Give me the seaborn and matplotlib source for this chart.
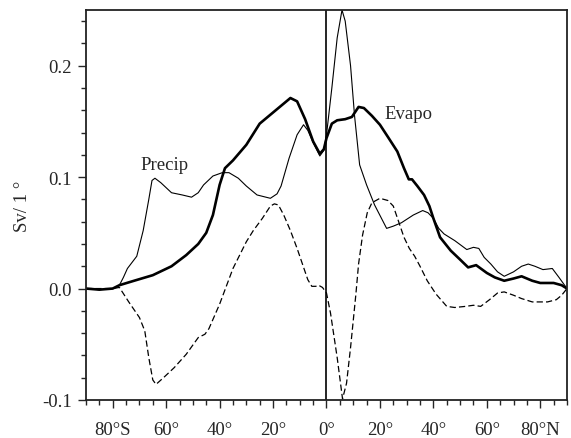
import matplotlib
matplotlib.use("Agg")
import matplotlib.pyplot as plt
from matplotlib.ticker import FixedLocator, FixedFormatter, MultipleLocator, FormatStrFormatter
import seaborn as sns
import pandas as pd

# Zonal distribution of evaporation, precipitation and E - P (Sv per degree latitude)
evapo_lat = [-90, -85, -80, -77.5, -72, -65, -58, -52.5, -48, -45, -42.5, -40, -38, -35,
             -30, -25, -20, -16, -13.5, -11, -8, -5, -2.5, -1, 0, 2, 4, 7, 9.5, 12, 14,
             17, 20, 23, 26.5, 29, 30.8, 32, 34, 36.5, 38.5, 40, 42.5, 46.5, 50, 53, 56,
             60, 63, 66.5, 70, 73, 77, 80, 85, 88, 90]
evapo_val = [0.0, -0.001, 0.0, 0.003, 0.007, 0.012, 0.020, 0.030, 0.040, 0.050, 0.066,
             0.093, 0.108, 0.115, 0.129, 0.148, 0.158, 0.166, 0.171, 0.168, 0.152, 0.132,
             0.121, 0.125, 0.135, 0.148, 0.151, 0.152, 0.154, 0.163, 0.162, 0.155, 0.147,
             0.136, 0.123, 0.108, 0.098, 0.098, 0.092, 0.084, 0.074, 0.063, 0.046, 0.034,
             0.026, 0.019, 0.021, 0.014, 0.010, 0.007, 0.009, 0.011, 0.007, 0.005, 0.005,
             0.003, 0.0]

precip_lat = [-90, -85, -80, -77.5, -76, -74.5, -71, -68.6, -66.5, -65.3, -64.2, -62, -58,
              -54, -50.5, -48, -46, -42.5, -39, -36.5, -33, -30, -26, -21, -18.5, -17,
              -14, -11, -8.6, -7, -5, -2.5, -1, 0, 2, 4, 5.8, 7, 9, 10.5, 12.4, 15, 18,
              22.5, 25, 28, 32.5, 36, 38, 40, 42, 44, 48, 52.5, 55, 57, 59, 61.5, 64,
              66.5, 70, 73, 75.5, 78, 81, 84.5, 87, 90]
precip_val = [0.0, -0.001, 0.0, 0.003, 0.010, 0.018, 0.029, 0.052, 0.080, 0.097, 0.099,
              0.095, 0.086, 0.084, 0.082, 0.086, 0.093, 0.101, 0.104, 0.104, 0.099, 0.092,
              0.084, 0.081, 0.085, 0.092, 0.117, 0.138, 0.147, 0.142, 0.131, 0.119, 0.124,
              0.138, 0.180, 0.225, 0.250, 0.240, 0.200, 0.155, 0.111, 0.093, 0.075, 0.054,
              0.056, 0.059, 0.066, 0.070, 0.068, 0.063, 0.054, 0.049, 0.043, 0.035, 0.037,
              0.036, 0.028, 0.022, 0.015, 0.011, 0.015, 0.020, 0.022, 0.020, 0.017, 0.018,
              0.010, 0.0]

emp_lat = [-90, -85, -80, -77.5, -74, -70, -68, -66.5, -65, -63.8, -61, -57, -52.5, -48,
           -45.5, -44, -40, -35, -30, -27.4, -24, -21, -19.5, -18, -16, -13.5, -11, -9,
           -7, -5.5, -4, -3, -1.5, 0, 1.5, 4, 6, 7.5, 9, 11, 12, 13.5, 15.25, 17, 20, 23,
           25, 27, 29, 31, 33, 35, 37.7, 41, 45, 48, 52, 55, 57.7, 61, 64, 66.5, 70, 73,
           77, 82.7, 86, 88, 90]
emp_val = [0.0, 0.0, 0.0, 0.001, -0.012, -0.026, -0.038, -0.062, -0.082, -0.086, -0.080,
           -0.071, -0.059, -0.044, -0.041, -0.036, -0.014, 0.018, 0.042, 0.052, 0.063,
           0.074, 0.076, 0.075, 0.066, 0.052, 0.036, 0.022, 0.008, 0.002, 0.002, 0.003,
           0.001, -0.004, -0.022, -0.062, -0.099, -0.085, -0.053, -0.005, 0.022, 0.048,
           0.068, 0.077, 0.081, 0.079, 0.074, 0.060, 0.046, 0.036, 0.029, 0.020, 0.007,
           -0.005, -0.016, -0.017, -0.016, -0.015, -0.016, -0.010, -0.004, -0.003, -0.006,
           -0.009, -0.012, -0.012, -0.010, -0.006, 0.0]

xtick_pos = [-80, -60, -40, -20, 0, 20, 40, 60, 80]
xtick_lbl = ["80°S", "60°", "40°", "20°", "0°", "20°", "40°", "60°", "80°N"]
ytick_pos = [-0.1, 0.0, 0.1, 0.2]

FS = 13.5

sns.set_style("ticks")
plt.rcParams["font.family"] = ["Liberation Serif", "DejaVu Serif"]
plt.rcParams["axes.unicode_minus"] = False
plt.rcParams["font.size"] = FS

fig = plt.figure(figsize=(5.71, 4.39), dpi=100)
ax = fig.add_axes([0.1506, 0.0866, 0.8424, 0.8884])

ev = pd.DataFrame({"lat": evapo_lat, "val": evapo_val})
pr = pd.DataFrame({"lat": precip_lat, "val": precip_val})
ep = pd.DataFrame({"lat": emp_lat, "val": emp_val})

sns.lineplot(data=ep, x="lat", y="val", ax=ax, color="black", lw=0.9,
             dashes=False, linestyle=(0, (5, 2.5)))
sns.lineplot(data=pr, x="lat", y="val", ax=ax, color="black", lw=0.8)
sns.lineplot(data=ev, x="lat", y="val", ax=ax, color="black", lw=1.9)

ax.axvline(0, color="black", lw=1.2)

ax.text(-60.5, 0.111, "Precip", ha="center", va="center", fontsize=FS)
ax.text(30.8, 0.157, "Evapo", ha="center", va="center", fontsize=FS)

ax.set_xlim(-90, 90)
ax.set_ylim(-0.1, 0.25)
ax.xaxis.set_major_locator(FixedLocator(xtick_pos))
ax.xaxis.set_major_formatter(FixedFormatter(xtick_lbl))
ax.xaxis.set_minor_locator(MultipleLocator(5))
ax.yaxis.set_major_locator(FixedLocator(ytick_pos))
ax.yaxis.set_major_formatter(FormatStrFormatter("%.1f"))
ax.yaxis.set_minor_locator(MultipleLocator(0.02))

ax.tick_params(which="major", length=6, width=1.0, direction="out", labelsize=FS)
ax.tick_params(axis="x", which="major", pad=9)
ax.tick_params(axis="y", which="major", pad=4)
ax.tick_params(which="minor", length=3.5, width=1.0, direction="out")
for s in ax.spines.values():
    s.set_linewidth(1.3)
    s.set_color("#222222")

ax.set_xlabel("")
ax.set_ylabel("Sv/ 1 °", fontsize=FS, labelpad=8)

fig.savefig("out.png", dpi=100)
